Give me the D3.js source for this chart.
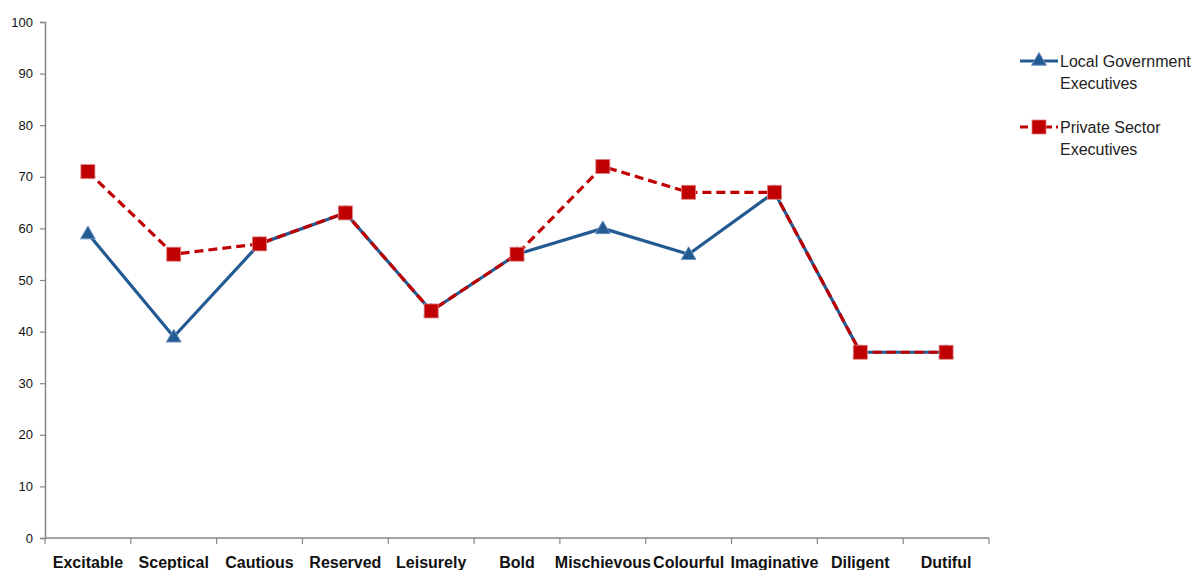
<!DOCTYPE html>
<html>
<head>
<meta charset="utf-8">
<script src="https://cdn.jsdelivr.net/npm/d3@7"></script>
<style>
  html, body { margin: 0; padding: 0; background: #fff; }
  svg { display: block; font-family: "Liberation Sans", Arial, sans-serif; }
</style>
</head>
<body>
<svg id="chart" width="1193" height="570"></svg>
<script>
// Personality scale scores by group
const categories = ["Excitable", "Sceptical", "Cautious", "Reserved", "Leisurely", "Bold",
  "Mischievous", "Colourful", "Imaginative", "Diligent", "Dutiful"];
const localGov = [59, 39, 57, 63, 44, 55, 60, 55, 67, 36, 36];
const privateSector = [71, 55, 57, 63, 44, 55, 72, 67, 67, 36, 36];
const yTicks = [0, 10, 20, 30, 40, 50, 60, 70, 80, 90, 100];
const seriesNames = [["Local Government", "Executives"], ["Private Sector", "Executives"]];

const svg = d3.select("#chart");
const margin = { left: 45, right: 204, top: 22, bottom: 32 };
const W = 1193, H = 570;

const x = d3.scaleBand().domain(categories).range([margin.left, W - margin.right]).padding(0);
const y = d3.scaleLinear().domain([0, 100]).range([H - margin.bottom, margin.top]);

const axisColor = "#868686";

// y axis
const yAxis = svg.append("g")
  .attr("transform", `translate(${margin.left},0)`)
  .call(d3.axisLeft(y).tickValues(yTicks).tickSize(5).tickSizeOuter(5).tickPadding(7));
yAxis.select(".domain").attr("stroke", axisColor).attr("stroke-width", 1.5);
yAxis.selectAll(".tick line").attr("stroke", axisColor).attr("stroke-width", 1.2);
yAxis.selectAll("text").attr("font-size", 13).attr("fill", "#111")
  .attr("font-family", "'Liberation Sans', Arial, sans-serif");

// x axis with ticks at category boundaries
const xAxisG = svg.append("g").attr("transform", `translate(0,${y(0)})`);
xAxisG.append("line")
  .attr("x1", margin.left).attr("x2", W - margin.right)
  .attr("stroke", axisColor).attr("stroke-width", 1.5);
const bounds = categories.map(c => x(c)).concat([x(categories[categories.length - 1]) + x.bandwidth()]);
xAxisG.selectAll("line.tk").data(bounds).join("line").attr("class", "tk")
  .attr("x1", d => d).attr("x2", d => d).attr("y1", 0).attr("y2", 6)
  .attr("stroke", axisColor).attr("stroke-width", 1.2);
xAxisG.selectAll("text").data(categories).join("text")
  .attr("x", d => x(d) + x.bandwidth() / 2)
  .attr("y", 30)
  .attr("text-anchor", "middle")
  .attr("font-size", 16).attr("font-weight", "bold").attr("fill", "#111")
  .text(d => d);

const cx = (d, i) => x(categories[i]) + x.bandwidth() / 2;
const line = d3.line().x(cx).y(d => y(d));

const blue = "#245A92";
const red = "#C00000";

// Local government line
svg.append("path").datum(localGov)
  .attr("d", line).attr("fill", "none")
  .attr("stroke", blue).attr("stroke-width", 3.2).attr("stroke-linejoin", "round");

// Private sector line (dashed)
svg.append("path").datum(privateSector)
  .attr("d", line).attr("fill", "none")
  .attr("stroke", red).attr("stroke-width", 3.2).attr("stroke-dasharray", "9,5");

const tri = d3.symbol().type(d3.symbolTriangle).size(95);
svg.append("g").selectAll("path").data(localGov).join("path")
  .attr("d", tri)
  .attr("transform", (d, i) => `translate(${cx(d, i)},${y(d) + 1})`)
  .attr("fill", blue).attr("stroke", "#6f95c4").attr("stroke-width", 1);

svg.append("g").selectAll("rect").data(privateSector).join("rect")
  .attr("x", (d, i) => cx(d, i) - 7).attr("y", d => y(d) - 7)
  .attr("width", 14).attr("height", 14)
  .attr("fill", red).attr("stroke", "#e08080").attr("stroke-width", 0.8);

// Legend
const legend = svg.append("g");
const legendRows = [
  { y: 61, color: blue, dash: null, marker: "tri" },
  { y: 127, color: red, dash: "8,4", marker: "sq" }
];
legendRows.forEach((r, k) => {
  legend.append("line")
    .attr("x1", 1020).attr("x2", 1058).attr("y1", r.y).attr("y2", r.y)
    .attr("stroke", r.color).attr("stroke-width", 3.2)
    .attr("stroke-dasharray", r.dash);
  if (r.marker === "tri") {
    legend.append("path").attr("d", tri)
      .attr("transform", `translate(1039,${r.y})`)
      .attr("fill", blue).attr("stroke", "#6f95c4").attr("stroke-width", 1);
  } else {
    legend.append("rect").attr("x", 1032).attr("y", r.y - 7).attr("width", 14).attr("height", 14)
      .attr("fill", red).attr("stroke", "#e08080").attr("stroke-width", 0.8);
  }
  seriesNames[k].forEach((t, j) => {
    legend.append("text")
      .attr("x", 1060).attr("y", r.y + 6 + j * 22)
      .attr("font-size", 16).attr("fill", "#222")
      .text(t);
  });
});
</script>
</body>
</html>
